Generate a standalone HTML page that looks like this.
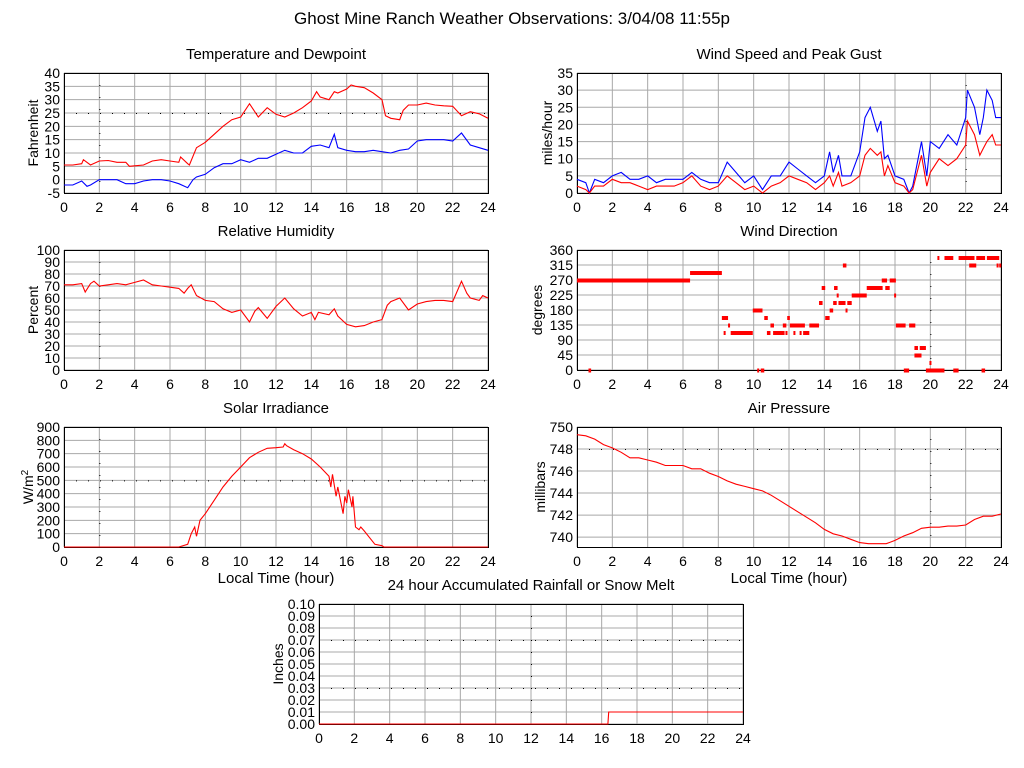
<!DOCTYPE html>
<html><head><meta charset="utf-8"><style>
html,body{margin:0;padding:0;background:#fff;width:1024px;height:768px;overflow:hidden}
svg{display:block;font-family:"Liberation Sans",sans-serif}
</style></head><body>
<svg id="s" width="1024" height="768" viewBox="0 0 1024 768">
<text x="512" y="24" font-size="17" text-anchor="middle">Ghost Mine Ranch Weather Observations: 3/04/08 11:55p</text>
</svg>
<script>
// ---- data ----
const tempT=[0,0.5,1,1.1,1.5,2,2.5,3,3.5,3.7,4,4.5,5,5.5,6,6.5,6.6,7,7.1,7.5,8,8.5,9,9.5,10,10.5,11,11.5,12,12.5,13,13.5,14,14.3,14.5,15,15.3,15.5,16,16.25,16.5,17,17.5,18,18.2,18.5,19,19.2,19.5,20,20.5,21,21.5,22,22.5,23,23.5,24];
const tempV=[5.5,5.5,6,7.5,5.5,7,7.2,6.5,6.5,5,5.2,5.5,7,7.5,7,6.5,8.5,6,5.5,12,14,17,20,22.5,23.5,28.5,23.5,27,24.5,23.5,25,27,29.5,33,31,30,33,32.5,34,35.5,35,34.5,32.5,30,24,23,22.5,26,28,28,28.7,28,27.7,27.5,24,25.5,24.7,23];
const dewT=[0,0.5,1,1.3,1.5,2,2.5,3,3.5,4,4.5,5,5.5,6,6.5,7,7.3,7.5,8,8.5,9,9.5,10,10.5,11,11.5,12,12.5,13,13.5,14,14.5,15,15.3,15.5,16,16.5,17,17.5,18,18.5,19,19.5,20,20.5,21,21.5,22,22.5,23,23.5,24];
const dewV=[-2,-2,-0.5,-2.5,-2,0,0,0,-1.5,-1.5,-0.5,0,0,-0.5,-1.5,-3,0,1,2,4.5,6,6,7.5,6.5,8,8,9.5,11,10,10,12.5,13,12,17,12,11,10.5,10.5,11,10.5,10,11,11.5,14.5,15,15,15,14.5,17.5,13,12,11];
const windT=[0,0.5,0.7,1,1.5,2,2.5,3,3.5,4,4.5,5,5.5,6,6.5,7,7.5,8,8.5,9,9.5,10,10.5,11,11.5,12,12.5,13,13.5,14,14.3,14.5,14.8,15,15.5,16,16.3,16.6,17,17.2,17.4,17.6,18,18.5,18.8,19,19.5,19.8,20,20.5,21,21.5,22,22.1,22.5,22.8,23,23.2,23.5,23.7,24];
const gustV=[4,3,0,4,3,5,6,4,4,5,3,4,4,4,6,4,3,3,9,6,3,5,1,5,5,9,7,5,3,5,12,6,11,5,5,12,22,25,18,21,10,11,5,4,0,2,15,5,15,13,17,14,22,30,25,17,22,30,27,22,22];
const speedV=[2,1,0,2,2,4,3,3,2,1,2,2,2,3,5,2,1,2,5,3,1,2,0,2,3,5,4,3,1,3,5,2,6,2,3,5,11,13,11,12,5,8,3,2,0,1,11,2,6,10,8,10,14,21,17,11,13,15,17,14,14];
const rhT=[0,0.5,1,1.2,1.5,1.7,2,2.5,3,3.5,4,4.5,5,5.5,6,6.5,6.8,7,7.2,7.5,8,8.5,9,9.5,10,10.5,10.8,11,11.5,12,12.5,13,13.5,14,14.2,14.4,15,15.3,15.5,16,16.5,17,17.5,18,18.3,18.5,19,19.5,20,20.5,21,21.5,22,22.5,22.8,23,23.5,23.7,24];
const rhV=[71,71,72,65,72,74,70,71,72,71,73,75,71,70,69,68,64,68,71,62,58,57,51,48,50,40,49,52,43,53,60,51,45,48,42,48,46,51,45,38,36,37,40,42,54,57,60,50,55,57,58,58,57,74,64,60,58,62,60];
const dirStart=[0,0.65,6.4,8.2,8.3,8.55,8.7,9.95,10.2,10.4,10.6,10.75,10.95,11.1,11.65,11.8,11.9,12.05,12.25,12.6,12.8,13.15,13.7,13.85,14.05,14.3,14.5,14.55,14.7,14.8,15.05,15.2,15.3,15.55,16.4,17.25,17.45,17.7,17.95,18.05,18.5,18.8,19.1,19.1,19.4,19.75,19.95,20.4,20.8,21.3,21.6,22.2,22.6,22.9,23.2,23.75,23.9];
const dirEnd=[6.4,0.8,8.2,8.55,8.4,8.65,9.95,10.5,10.3,10.6,10.8,10.95,11.15,11.75,11.85,11.9,12.05,12.9,12.35,12.7,13.15,13.7,13.9,14.05,14.3,14.5,14.7,14.75,14.8,15.2,15.25,15.3,15.55,16.4,17.3,17.55,17.7,18.05,18.05,18.6,18.8,19.15,19.3,19.5,19.75,20.8,20.05,20.5,21.3,21.6,22.5,22.6,23.1,23.1,23.9,23.85,24];
const dirDeg=[270,0,292.5,157.5,112.5,135,112.5,180,0,0,157.5,112.5,135,112.5,135,112.5,157.5,135,112.5,112.5,112.5,135,202.5,247.5,157.5,180,202.5,247.5,225,202.5,315,180,202.5,225,247.5,270,247.5,270,225,135,0,135,67.5,45,67.5,0,22.5,337.5,337.5,0,337.5,315,337.5,0,337.5,315,315];
const solT=[0,6.5,7,7.2,7.4,7.5,7.7,8,8.5,9,9.5,10,10.5,11,11.5,12,12.4,12.5,12.6,13,13.5,14,14.5,15,15.1,15.2,15.4,15.5,15.8,15.9,16,16.1,16.3,16.35,16.5,16.7,16.8,17,17.3,17.6,18,18.1,24];
const solV=[0,0,20,100,150,80,200,250,350,450,530,600,670,710,740,745,750,775,760,730,700,660,600,530,450,545,380,450,250,380,330,430,300,380,150,130,150,120,70,20,10,0,0];
const presT=[0,0.5,1,1.5,2,2.5,3,3.5,4,4.5,5,5.5,6,6.5,7,7.5,8,8.5,9,9.5,10,10.5,11,11.5,12,12.5,13,13.5,14,14.5,15,15.5,16,16.5,17,17.5,18,18.5,19,19.5,20,20.5,21,21.5,22,22.5,23,23.5,24];
const presV=[749.3,749.2,748.9,748.4,748.1,747.7,747.2,747.2,747,746.8,746.5,746.5,746.5,746.2,746.2,745.8,745.5,745.1,744.8,744.6,744.4,744.2,743.8,743.3,742.8,742.3,741.8,741.3,740.7,740.3,740.1,739.8,739.5,739.4,739.4,739.4,739.7,740.1,740.4,740.8,740.9,740.9,741,741,741.1,741.6,741.9,741.9,742.1];
const rainT=[0,16.35,16.4,24];
const rainV=[0,0,0.01,0.01];
const xTicks=[0,2,4,6,8,10,12,14,16,18,20,22,24];

const svg=document.getElementById('s');
const NS='http://www.w3.org/2000/svg';
function mk(tag,attrs,parent){const e=document.createElementNS(NS,tag);for(const k in attrs)e.setAttribute(k,attrs[k]);(parent||svg).appendChild(e);return e;}

function panel(c){
  const g=mk('g',{});
  
  
  const sx=v=>c.x0+(v-0)/24*(c.x1-c.x0);
  const sy=v=>c.y1-(v-c.min)/(c.max-c.min)*(c.y1-c.y0);
  c.sx=sx;c.sy=sy;
  // grid
  xTicks.forEach(t=>{
    const l=mk('line',{x1:sx(t),x2:sx(t),y1:c.y0,y2:c.y1,stroke:'#a8a8a8','stroke-width':1},g);
    
    
  });
  c.yTicks.forEach(t=>{
    const l=mk('line',{x1:c.x0,x2:c.x1,y1:sy(t),y2:sy(t),stroke:'#a8a8a8','stroke-width':1},g);
    
    
  });
  (c.dotX||[]).forEach(t=>{
    const l=mk('line',{x1:sx(t)+0.5,x2:sx(t)+0.5,y1:c.y0,y2:c.y1,stroke:'#000','stroke-width':1,'stroke-dasharray':'1,11'},g);
    
    
  });
  (c.dotY||[]).forEach(t=>{
    const l=mk('line',{x1:c.x0,x2:c.x1,y1:sy(t)+0.5,y2:sy(t)+0.5,stroke:'#000','stroke-width':1,'stroke-dasharray':'1,11'},g);
    
    
  });
  // frame
  const f=mk('rect',{x:c.x0+0.5,y:c.y0+0.5,width:c.x1-c.x0,height:c.y1-c.y0,fill:'none',stroke:'#000','stroke-width':1},g);
  
  
  // ticks labels
  xTicks.forEach(t=>{
    const tx=mk('text',{x:sx(t),y:c.y1+19,'font-size':14,'text-anchor':'middle'},g);
    tx.textContent=t;
    
    
  });
  c.yTicks.forEach((t,i)=>{
    const tx=mk('text',{x:c.x0-4,y:sy(t)+5,'font-size':14,'text-anchor':'end'},g);
    tx.textContent=c.yLabels[i];
    
    
  });
  const ti=mk('text',{x:(c.x0+c.x1)/2,y:c.y0-14,'font-size':15,'text-anchor':'middle'},g);
  ti.textContent=c.title;
  
  
  const yt=mk('text',{x:0,y:0,'font-size':14,'text-anchor':'middle',transform:`translate(${c.ytx},${(c.y0+c.y1)/2}) rotate(-90)`},g);
  yt.innerHTML=c.ytitle;
  
  
  if(c.xtitle){
    const xt=mk('text',{x:(c.x0+c.x1)/2,y:c.y1+36,'font-size':15,'text-anchor':'middle'},g);
    xt.textContent='Local Time (hour)';
    
    
  }
  c.g=g;
  return c;
}
function line(c,T,V,color,name){
  const d=T.map((t,i)=>(i?'L':'M')+c.sx(t).toFixed(1)+','+c.sy(V[i]).toFixed(1)).join('');
  const p=mk('path',{d:d,fill:'none',stroke:color,'stroke-width':1.1},c.g);
  
  
}
function range(a,b,s){const r=[];for(let v=a;v<=b+1e-9;v+=s)r.push(+v.toFixed(4));return r;}

const pT=panel({name:'temperature',title:'Temperature and Dewpoint',ytitle:'Fahrenheit',ytx:38,x0:64,x1:488,y0:73,y1:193,min:-5,max:40,yTicks:range(-5,40,5),yLabels:range(-5,40,5),dotX:[2],dotY:[25]});
line(pT,tempT,tempV,'#f00','temperature-line');
line(pT,dewT,dewV,'#00f','dewpoint-line');

const pW=panel({name:'wind-speed',title:'Wind Speed and Peak Gust',ytitle:'miles/hour',ytx:552,x0:577,x1:1001,y0:73,y1:193,min:0,max:35,yTicks:range(0,35,5),yLabels:range(0,35,5),dotX:[22]});
line(pW,windT,gustV,'#00f','peak-gust-line');
line(pW,windT,speedV,'#f00','wind-speed-line');

const pH=panel({name:'humidity',title:'Relative Humidity',ytitle:'Percent',ytx:38,x0:64,x1:488,y0:250,y1:370,min:0,max:100,yTicks:range(0,100,10),yLabels:range(0,100,10),dotX:[2]});
line(pH,rhT,rhV,'#f00','humidity-line');

const pD=panel({name:'wind-direction',title:'Wind Direction',ytitle:'degrees',ytx:542,x0:577,x1:1001,y0:250,y1:370,min:0,max:360,yTicks:range(0,360,45),yLabels:range(0,360,45),dotX:[20]});
dirDeg.forEach((d,i)=>{
  const x=pD.sx(dirStart[i]),w=Math.max(2,pD.sx(dirEnd[i])-x);
  const r=mk('rect',{x:x,y:pD.sy(d)-1.5,width:w,height:4,fill:'#f00'},pD.g);
  
  
});

const pS=panel({name:'solar',title:'Solar Irradiance',ytitle:'W/m<tspan dy="-5" font-size="10">2</tspan>',ytx:33,x0:64,x1:488,y0:427,y1:547,min:0,max:900,yTicks:range(0,900,100),yLabels:range(0,900,100),dotX:[2],dotY:[500],xtitle:true});
line(pS,solT,solV,'#f00','solar-line');

const pP=panel({name:'pressure',title:'Air Pressure',ytitle:'millibars',ytx:545,x0:577,x1:1001,y0:427,y1:547,min:739.1,max:750,yTicks:range(740,750,2),yLabels:range(740,750,2),dotX:[20],dotY:[748],xtitle:true});
line(pP,presT,presV,'#f00','pressure-line');

const pR=panel({name:'rainfall',title:'24 hour Accumulated Rainfall or Snow Melt',ytitle:'Inches',ytx:283,x0:319,x1:743,y0:604,y1:724,min:0,max:0.1,yTicks:range(0,0.1,0.01),yLabels:range(0,0.1,0.01).map(v=>v.toFixed(2)),dotX:[12],dotY:[0.07,0.03]});
line(pR,rainT,rainV,'#f00','rainfall-line');
</script>
</body></html>
